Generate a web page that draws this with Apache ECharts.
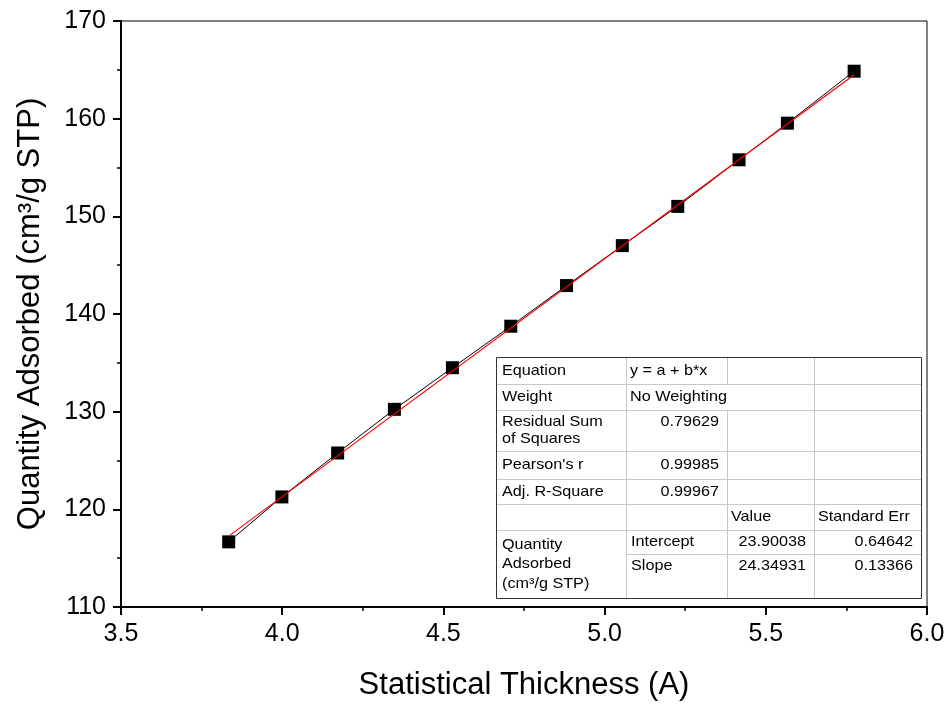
<!DOCTYPE html>
<html>
<head>
<meta charset="utf-8">
<script src="https://cdn.jsdelivr.net/npm/echarts/dist/echarts.min.js"></script>
<style>
  html, body { margin: 0; padding: 0; background: #fff; }
  #chart { width: 950px; height: 706px; }
</style>
</head>
<body>
<div id="chart"></div>
<script>
// Measured points: statistical thickness (A) vs quantity adsorbed (cm³/g STP)
const thickness = [3.834, 3.999, 4.172, 4.348, 4.528, 4.709, 4.882, 5.055, 5.227, 5.417, 5.567, 5.774];
const adsorbed  = [116.67, 121.27, 125.77, 130.24, 134.50, 138.75, 142.91, 147.00, 151.02, 155.79, 159.54, 164.86];

// Linear fit results
const fitIntercept = 23.90038;
const fitSlope = 24.34931;
const fitInterceptErr = 0.64642;
const fitSlopeErr = 0.13366;

// Fit statistics table
const statLabels = ['Equation', 'Weight', 'Residual Sum\nof Squares', "Pearson's r", 'Adj. R-Square'];
const statValues = ['y = a + b*x', 'No Weighting', '0.79629', '0.99985', '0.99967'];
const paramHeader = ['Value', 'Standard Err'];
const paramNames = ['Intercept', 'Slope'];
const paramGroup = 'Quantity\nAdsorbed\n(cm³/g STP)';

// Axis ranges
const xRange = [3.5, 6.0, 0.5];
const yRange = [110, 170, 10];

const FONT = '"Liberation Sans", Arial, sans-serif';

const points = thickness.map((x, i) => [x, adsorbed[i]]);
const fitX = [thickness[0], thickness[thickness.length - 1]];
const fitLine = fitX.map(x => [x, fitIntercept + fitSlope * x]);

// ---- table drawn as graphic elements ----
const colX = [496, 626, 727, 814, 921];
const rowY = [357, 384, 410, 451, 479, 504, 530, 554, 598];
const gridColor = '#c8c8c8';
const TS = 15, SX = 1.08;

function hline(x1, x2, y) {
  return { type: 'line', shape: { x1, y1: y + 0.5, x2, y2: y + 0.5 }, style: { stroke: gridColor, lineWidth: 1 }, z: 10 };
}
function vline(x, y1, y2) {
  return { type: 'line', shape: { x1: x + 0.5, y1, x2: x + 0.5, y2 }, style: { stroke: gridColor, lineWidth: 1 }, z: 10 };
}
function txt(s, x, y, align, lh) {
  return {
    type: 'text', x, y, scaleX: SX, z: 12,
    style: { text: s, x: 0, y: 0, fill: '#000', font: TS + 'px ' + FONT, textAlign: align || 'left', textVerticalAlign: 'middle', lineHeight: lh || 17 }
  };
}

const tbl = [];
tbl.push({ type: 'rect', shape: { x: colX[0] + 0.5, y: rowY[0] + 0.5, width: colX[4] - colX[0], height: rowY[8] - rowY[0] }, style: { fill: '#fff', stroke: '#333', lineWidth: 1 }, z: 9 });
for (let r = 1; r <= 6; r++) tbl.push(hline(colX[0] + 1, colX[4], rowY[r]));
tbl.push(hline(colX[1], colX[4], rowY[7]));
tbl.push(vline(colX[1], rowY[0] + 1, rowY[8]));
tbl.push(vline(colX[2], rowY[0] + 1, rowY[1]));
tbl.push(vline(colX[2], rowY[2], rowY[8]));
tbl.push(vline(colX[3], rowY[0] + 1, rowY[8]));

const padL = 6, padR = 8;
// statistics rows
statLabels.forEach((s, i) => {
  const yc = i === 2 ? (rowY[2] + rowY[3]) / 2 : (rowY[i] + rowY[i + 1]) / 2;
  tbl.push(txt(s, colX[0] + padL, yc));
});
statValues.forEach((s, i) => {
  if (i < 2) {
    tbl.push(txt(s, colX[1] + 4, (rowY[i] + rowY[i + 1]) / 2));
  } else {
    const yc = i === 2 ? rowY[2] + 12 : (rowY[i] + rowY[i + 1]) / 2;
    tbl.push(txt(s, colX[2] - padR, yc, 'right'));
  }
});
// parameter header
tbl.push(txt(paramHeader[0], colX[2] + 4, (rowY[5] + rowY[6]) / 2));
tbl.push(txt(paramHeader[1], colX[3] + 4, (rowY[5] + rowY[6]) / 2));
// parameter rows
const paramVals = [fitIntercept.toFixed(5), fitSlope.toFixed(5)];
const paramErrs = [fitInterceptErr.toFixed(5), fitSlopeErr.toFixed(5)];
paramNames.forEach((s, i) => {
  const yc = rowY[6 + i] + 12;
  tbl.push(txt(s, colX[1] + 5, yc));
  tbl.push(txt(paramVals[i], colX[3] - padR, yc, 'right'));
  tbl.push(txt(paramErrs[i], colX[4] - padR, yc, 'right'));
});
tbl.push(txt(paramGroup, colX[0] + padL, (rowY[6] + rowY[8]) / 2, 'left', 19.5));

const chart = echarts.init(document.getElementById('chart'));
chart.setOption({
  animation: false,
  backgroundColor: '#fff',
  grid: { left: 121, right: 23, top: 21, bottom: 98, show: true, borderColor: '#000', borderWidth: 1 },
  xAxis: {
    type: 'value', min: xRange[0], max: xRange[1], interval: xRange[2],
    name: 'Statistical Thickness (A)', nameLocation: 'middle', nameGap: 63,
    nameTextStyle: { fontFamily: FONT, fontSize: 31, color: '#000' },
    axisLine: { show: true, onZero: false, lineStyle: { color: '#000', width: 2 } },
    axisTick: { show: true, length: 8, lineStyle: { color: '#000', width: 2 } },
    minorTick: { show: true, splitNumber: 2, length: 4, lineStyle: { color: '#000', width: 1.5 } },
    splitLine: { show: false },
    axisLabel: { fontFamily: FONT, fontSize: 25, color: '#000', margin: 15, formatter: v => v.toFixed(1) }
  },
  yAxis: {
    type: 'value', min: yRange[0], max: yRange[1], interval: yRange[2],
    name: 'Quantity Adsorbed (cm³/g STP)', nameLocation: 'middle', nameGap: 75,
    nameTextStyle: { fontFamily: FONT, fontSize: 31, color: '#000' },
    axisLine: { show: true, onZero: false, lineStyle: { color: '#000', width: 2 } },
    axisTick: { show: true, length: 8, lineStyle: { color: '#000', width: 2 } },
    minorTick: { show: true, splitNumber: 2, length: 4, lineStyle: { color: '#000', width: 1.5 } },
    splitLine: { show: false },
    axisLabel: { fontFamily: FONT, fontSize: 25, color: '#000', margin: 15 }
  },
  series: [
    {
      type: 'line', data: points, z: 2,
      symbol: 'rect', symbolSize: 13,
      itemStyle: { color: '#000' },
      lineStyle: { color: '#000', width: 1 }
    },
    {
      type: 'line', data: fitLine, z: 3,
      symbol: 'none',
      lineStyle: { color: '#ff0000', width: 1.2 }
    }
  ],
  graphic: tbl
});
</script>
</body>
</html>
